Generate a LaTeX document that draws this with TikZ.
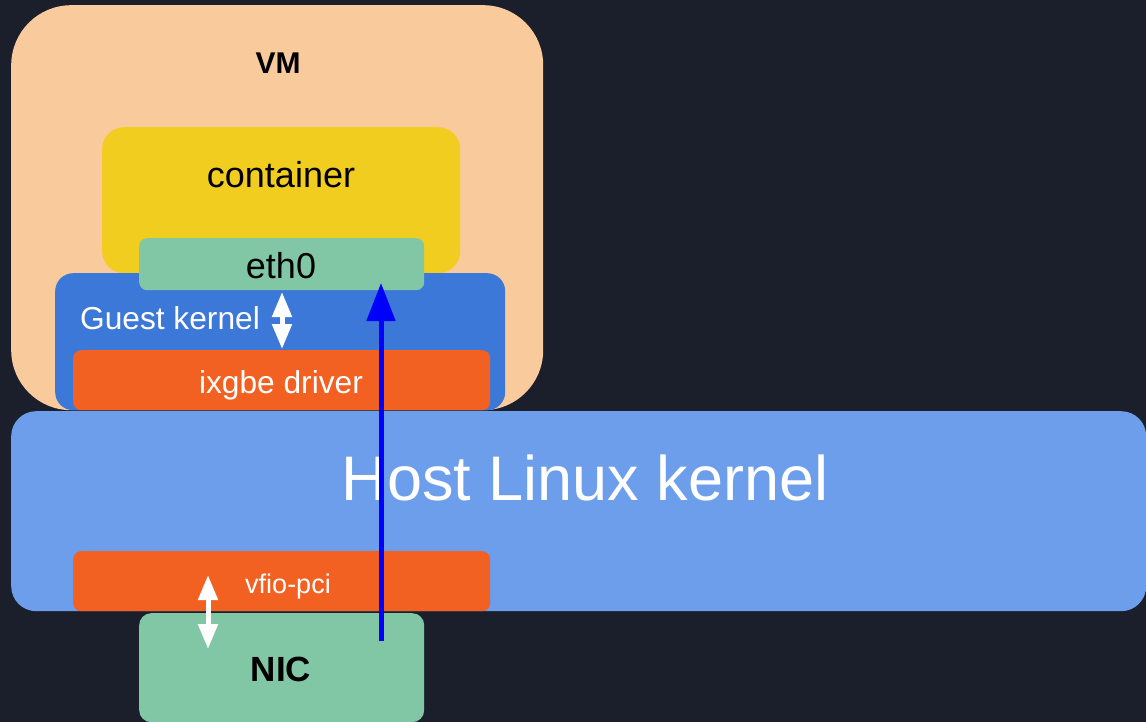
\documentclass[tikz,border=0pt]{standalone}
\usepackage{fontspec}
\setmainfont{Liberation Sans}
\usetikzlibrary{arrows.meta}
\definecolor{bgc}{HTML}{1B1F2B}
\definecolor{vmc}{HTML}{F9CA9C}
\definecolor{ctc}{HTML}{F0CD1E}
\definecolor{grn}{HTML}{82C7A5}
\definecolor{gkc}{HTML}{3C78D8}
\definecolor{orc}{HTML}{F26122}
\definecolor{hkc}{HTML}{6D9EEB}
\tikzset{
  box/.style={rectangle, inner sep=0pt, anchor=north west, draw=none},
  lbl/.style={inner sep=0pt, anchor=base},
  wdbl/.style={white, line width=5pt, {Triangle[width=19pt,length=25pt]}-{Triangle[width=19pt,length=25pt]}, shorten <=0pt, shorten >=0pt},
  bluearr/.style={blue, line width=5pt, -{Triangle[width=28pt,length=38pt]}}
}
\begin{document}
\begin{tikzpicture}[x=1pt,y=-1pt]
\fill[bgc] (0,0) rectangle (1146,722);
\useasboundingbox (0,0) rectangle (1146,722);
% boxes
\node[box, fill=vmc, rounded corners=60pt, minimum width=532pt, minimum height=405pt] (vm) at (11,5) {};
\node[box, fill=ctc, rounded corners=22pt, minimum width=358pt, minimum height=146pt] (ct) at (102,127) {};
\node[box, fill=gkc, rounded corners=18pt, minimum width=450pt, minimum height=137pt] (gk) at (55,273) {};
\node[box, fill=grn, rounded corners=8pt, minimum width=285pt, minimum height=52pt] (eth) at (139,238) {};
\node[box, fill=orc, rounded corners=8pt, minimum width=417pt, minimum height=60pt] (ix) at (73,350) {};
\node[box, fill=hkc, rounded corners=25pt, minimum width=1135pt, minimum height=200pt] (hk) at (11,411) {};
\node[box, fill=orc, rounded corners=8pt, minimum width=417pt, minimum height=60pt] (vf) at (73,551) {};
\node[box, fill=grn, rounded corners=12pt, minimum width=285pt, minimum height=109pt] (nic) at (139,613) {};
% labels
\node[lbl, font=\fontsize{30}{36}\selectfont\bfseries] (vmt) at (278,74) {VM};
\node[lbl, font=\fontsize{36}{43}\selectfont] (ctt) at (281,188) {container};
\node[lbl, font=\fontsize{36}{43}\selectfont] (etht) at (281,278) {eth0};
\node[lbl, white, font=\fontsize{31.7}{38}\selectfont] (gkt) at (170,329) {Guest kernel};
\node[lbl, white, font=\fontsize{31.7}{38}\selectfont] (ixt) at (281,393) {ixgbe driver};
\node[lbl, white, font=\fontsize{63}{75}\selectfont] (hkt) at (585,500) {Host Linux kernel};
\node[lbl, white, font=\fontsize{27}{32}\selectfont] (vft) at (288,593) {vfio-pci};
\node[lbl, font=\fontsize{35}{42}\selectfont\bfseries] (nict) at (281,681) {NIC};
% arrows
\coordinate (g1) at (282,292);
\coordinate (g2) at (282,349);
\coordinate (v1) at (208,575);
\coordinate (v2) at (208,649);
\coordinate (bs) at (381,641);
\coordinate (be) at (381,283);
\draw[wdbl] (g1) -- (g2);
\draw[wdbl] (v1) -- (v2);
\draw[bluearr] (bs) -- (be);
\end{tikzpicture}
\end{document}
